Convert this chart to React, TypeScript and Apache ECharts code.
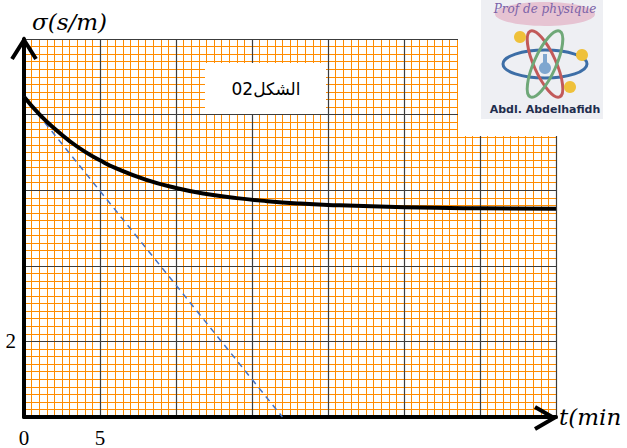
import React, { useEffect, useRef } from "react";
import * as echarts from "echarts";

// time (min) and conductivity σ (S/m)
const timeMin = [0, 1, 2, 3, 4, 5, 6, 8, 10, 12, 14, 16, 18, 20, 25, 30, 35];
const sigma = [8.47, 8.01, 7.63, 7.3, 7.02, 6.79, 6.59, 6.28, 6.06, 5.9, 5.79, 5.71, 5.65, 5.61, 5.55, 5.52, 5.51];
// tangent at t = 0
const tangentT = [0, 17];
const tangentSigma = [8.47, 0];
// shown tick labels
const xTickLabels = [0, 5];
const yTickLabels = [2];

export default function App() {
  const ref = useRef<HTMLDivElement>(null);
  useEffect(() => {
    if (!ref.current) return;
    const chart = echarts.init(ref.current, null, { renderer: "svg" });
    const orange = "#FF8C00";
    const major = "#3c3c3c";
    const Z = 20;
    const minorAxis = (max: number, interval: number) => ({
      type: "value",
      min: 0,
      max,
      interval,
      z: 1,
      axisLine: { show: false },
      axisTick: { show: false },
      axisLabel: { show: false },
      splitLine: { show: true, lineStyle: { color: orange, width: 1 } },
    });
    chart.setOption({
      animation: false,
      grid: { left: 24, top: 39, width: 532, height: 379, containLabel: false },
      xAxis: [
        {
          type: "value",
          min: 0,
          max: 35,
          interval: 5,
          z: 3,
          position: "bottom",
          name: "t(min",
          nameLocation: "end",
          nameGap: 3,
          nameTextStyle: { fontFamily: "DejaVu Serif", fontStyle: "italic", fontSize: 23, color: "#000" },
          axisLine: { show: true, onZero: true, lineStyle: { color: "#000", width: 4 } },
          axisTick: { show: false },
          axisLabel: {
            margin: 10,
            fontFamily: "Liberation Serif",
            fontSize: 21,
            color: "#000",
            formatter: (v: number) => (xTickLabels.includes(v) ? String(v) : ""),
          },
          splitLine: { show: true, lineStyle: { color: major, width: 1.2 } },
        },
        { ...minorAxis(35, 0.5), position: "bottom" },
      ],
      yAxis: [
        {
          type: "value",
          min: 0,
          max: 10,
          interval: 2,
          z: 3,
          position: "left",
          name: "σ(s/m)",
          nameLocation: "end",
          nameGap: 6,
          nameTextStyle: {
            fontFamily: "DejaVu Serif",
            fontStyle: "italic",
            fontSize: 23,
            color: "#000",
            align: "left",
            padding: [0, 0, 0, 8],
          },
          axisLine: { show: true, onZero: true, lineStyle: { color: "#000", width: 4 } },
          axisTick: { show: false },
          axisLabel: {
            margin: 8,
            fontFamily: "Liberation Serif",
            fontSize: 21,
            color: "#000",
            formatter: (v: number) => (yTickLabels.includes(v) ? String(v) : ""),
          },
          splitLine: { show: true, lineStyle: { color: major, width: 1.2 } },
        },
        { ...minorAxis(10, 0.2), position: "left" },
      ],
      series: [
        {
          type: "line",
          data: timeMin.map((t, i) => [t, sigma[i]]),
          smooth: true,
          showSymbol: false,
          lineStyle: { color: "#000", width: 4 },
          z: 6,
        },
        {
          type: "line",
          data: tangentT.map((t, i) => [t, tangentSigma[i]]),
          showSymbol: false,
          lineStyle: { color: "#4472C4", width: 1.5, type: [6, 5] },
          z: 5,
        },
      ],
      graphic: [
        // white zone behind logo
        { type: "rect", z: Z, shape: { x: 458, y: 0, width: 169, height: 136 }, style: { fill: "#fff" } },
        // figure label
        { type: "rect", z: Z, shape: { x: 205, y: 63, width: 121, height: 51 }, style: { fill: "#fff" } },
        {
          type: "text",
          z: Z + 1,
          x: 266,
          y: 89,
          style: {
            text: "الشكل02",
            font: "17px 'DejaVu Sans'",
            fill: "#000",
            align: "center",
            verticalAlign: "middle",
          },
        },
        // axis arrows
        {
          type: "polyline",
          z: Z + 5,
          shape: { points: [[12, 59], [24, 40], [36, 59]] },
          style: { stroke: "#000", lineWidth: 4, fill: "none" },
        },
        {
          type: "polyline",
          z: Z + 5,
          shape: { points: [[535, 407], [554, 418], [535, 429]] },
          style: { stroke: "#000", lineWidth: 4, fill: "none" },
        },
        // logo
        { type: "rect", z: Z + 1, shape: { x: 481, y: 0, width: 122, height: 119 }, style: { fill: "#eeeff3" } },
        { type: "ellipse", z: Z + 2, shape: { cx: 545, cy: 14, rx: 50, ry: 12 }, style: { fill: "#e6c3d2" } },
        {
          type: "text",
          z: Z + 3,
          x: 545,
          y: 9,
          style: {
            text: "Prof de physique",
            font: "italic 12px 'DejaVu Serif'",
            fill: "#7a62a8",
            align: "center",
            verticalAlign: "middle",
          },
        },
        { type: "ellipse", z: Z + 3, x: 545, y: 64, shape: { cx: 0, cy: 0, rx: 42, ry: 14 }, style: { fill: "none", stroke: "#3d6ea6", lineWidth: 3 } },
        { type: "ellipse", z: Z + 3, x: 545, y: 64, rotation: -1.15, shape: { cx: 0, cy: 0, rx: 36, ry: 11 }, style: { fill: "none", stroke: "#c25a5a", lineWidth: 3 } },
        { type: "ellipse", z: Z + 3, x: 545, y: 64, rotation: 1.15, shape: { cx: 0, cy: 0, rx: 36, ry: 11 }, style: { fill: "none", stroke: "#6fa878", lineWidth: 3 } },
        { type: "circle", z: Z + 4, shape: { cx: 520, cy: 37, r: 6 }, style: { fill: "#efc13a" } },
        { type: "circle", z: Z + 4, shape: { cx: 582, cy: 55, r: 6 }, style: { fill: "#efc13a" } },
        { type: "circle", z: Z + 4, shape: { cx: 570, cy: 87, r: 6 }, style: { fill: "#efc13a" } },
        { type: "circle", z: Z + 4, shape: { cx: 545, cy: 68, r: 6 }, style: { fill: "#7fa6cf" } },
        { type: "rect", z: Z + 4, shape: { x: 543, y: 54, width: 4, height: 9 }, style: { fill: "#7fa6cf" } },
        {
          type: "text",
          z: Z + 4,
          x: 545,
          y: 109,
          style: {
            text: "Abdl. Abdelhafidh",
            font: "bold 11px 'DejaVu Sans'",
            fill: "#1f2d4d",
            align: "center",
            verticalAlign: "middle",
          },
        },
      ],
    });
    return () => chart.dispose();
  }, []);
  return (
    <div
      ref={ref}
      style={{ position: "fixed", left: 0, top: 0, width: 627, height: 448, background: "#fff" }}
    />
  );
}
